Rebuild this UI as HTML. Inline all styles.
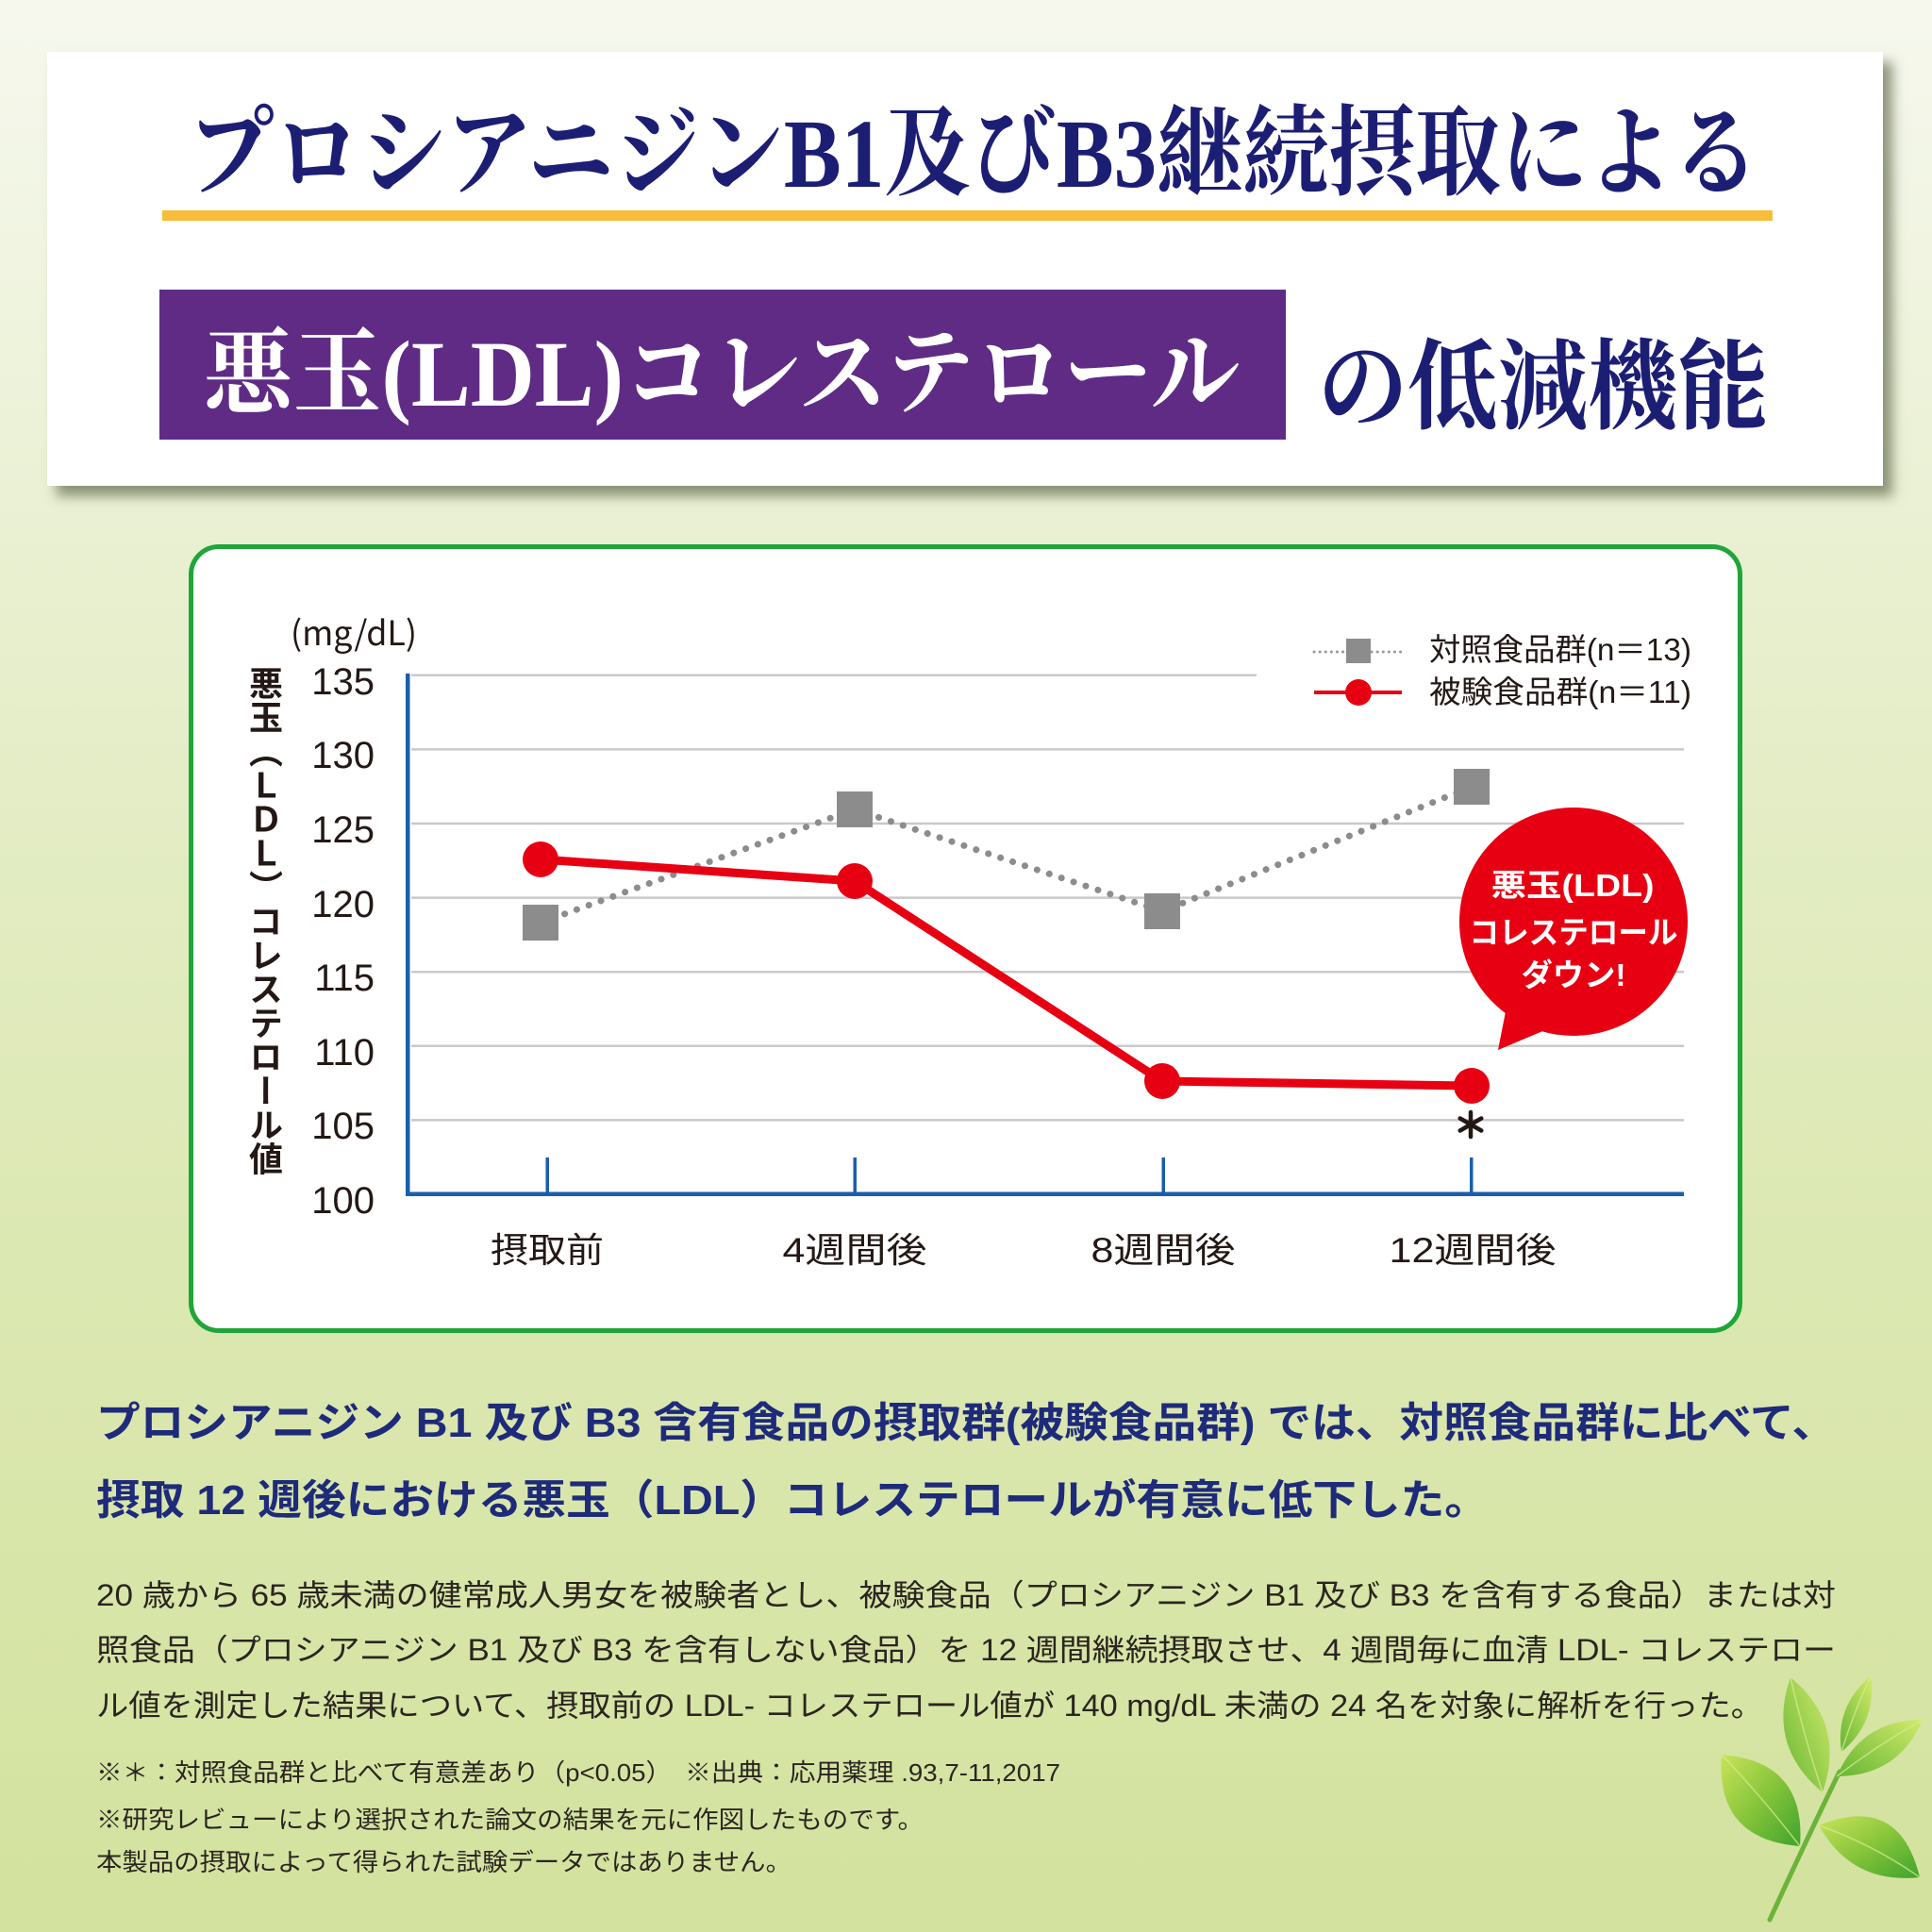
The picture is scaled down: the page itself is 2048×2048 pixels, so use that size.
<!DOCTYPE html>
<html><head><meta charset="utf-8">
<style>
html,body{margin:0;padding:0;}
body{width:2048px;height:2048px;position:relative;overflow:hidden;
background:linear-gradient(180deg,#f6f8ee 0%,#eef3dc 18%,#e4edc6 40%,#dce8b2 65%,#d3e29e 100%);
font-family:"Liberation Sans","Noto Sans CJK JP",sans-serif;}
#titlebox{position:absolute;left:50px;top:55px;width:1946px;height:460px;background:#fff;box-shadow:10px 11px 12px rgba(60,70,40,0.55);}
#chartbox{position:absolute;left:200px;top:577px;width:1647px;height:836px;box-sizing:border-box;border:5px solid #1fa539;border-radius:32px;background:#fff;}
#ytitle{position:absolute;left:260px;top:706px;width:38px;writing-mode:vertical-rl;font-size:36px;line-height:38px;font-weight:700;color:#231815;font-family:"Liberation Sans","Noto Sans CJK JP",sans-serif;white-space:nowrap;}
svg{position:absolute;left:0;top:0;}
</style></head>
<body>
<div id="titlebox"></div>
<div id="chartbox"></div>
<svg width="2048" height="2048" viewBox="0 0 2048 2048">
<defs>
<linearGradient id="lg" x1="0" y1="0" x2="1" y2="1">
<stop offset="0" stop-color="#c9e35a"/><stop offset="0.5" stop-color="#86c53a"/><stop offset="1" stop-color="#3fa32e"/>
</linearGradient>
<linearGradient id="lg2" x1="1" y1="0" x2="0" y2="1">
<stop offset="0" stop-color="#d2ea6a"/><stop offset="1" stop-color="#66b634"/>
</linearGradient>
</defs>

<!-- Title -->
<text x="199" y="198" font-family="'Liberation Serif','Noto Serif CJK SC',serif" font-weight="700" font-size="104" fill="#1c1e74" textLength="1666" lengthAdjust="spacingAndGlyphs">プロシアニジンB1及びB3継続摂取による</text>
<rect x="172" y="223" width="1707" height="11" fill="#f9bd3c"/>
<rect x="169" y="307" width="1194" height="159" fill="#5f2b85"/>
<text x="216" y="430" font-family="'Liberation Serif','Noto Serif CJK SC',serif" font-weight="700" font-size="100" fill="#ffffff" textLength="1098" lengthAdjust="spacingAndGlyphs">悪玉(LDL)コレステロール</text>
<text x="1397" y="446" font-family="'Liberation Serif','Noto Serif CJK SC',serif" font-weight="700" font-size="104" fill="#1c1e74" textLength="477" lengthAdjust="spacingAndGlyphs">の低減機能</text>

<!-- Grid -->
<g stroke="#c9c9c9" stroke-width="2.5">
<line x1="436" y1="715.8" x2="1332" y2="715.8"/>
<line x1="436" y1="794.4" x2="1785" y2="794.4"/>
<line x1="436" y1="873" x2="1785" y2="873"/>
<line x1="436" y1="951.6" x2="1785" y2="951.6"/>
<line x1="436" y1="1030.2" x2="1785" y2="1030.2"/>
<line x1="436" y1="1108.8" x2="1785" y2="1108.8"/>
<line x1="436" y1="1187.4" x2="1785" y2="1187.4"/>
</g>
<!-- Axes -->
<rect x="430" y="714" width="4.5" height="554" fill="#1a5fab"/>
<rect x="430" y="1263.5" width="1355" height="4.5" fill="#1a5fab"/>
<g fill="#1a5fab">
<rect x="578.5" y="1227" width="3.5" height="38"/>
<rect x="904.5" y="1227" width="3.5" height="38"/>
<rect x="1231.5" y="1227" width="3.5" height="38"/>
<rect x="1558" y="1227" width="3.5" height="38"/>
</g>

<!-- Y tick labels -->
<g font-family="'Liberation Sans',sans-serif" font-size="40" fill="#231815" text-anchor="end">
<text x="397" y="736">135</text>
<text x="397" y="814">130</text>
<text x="397" y="893">125</text>
<text x="397" y="972">120</text>
<text x="397" y="1050">115</text>
<text x="397" y="1129">110</text>
<text x="397" y="1207">105</text>
<text x="397" y="1286">100</text>
</g>
<text x="308" y="684" font-family="'Noto Sans CJK JP','Liberation Sans',sans-serif" font-size="36" fill="#231815" textLength="134" lengthAdjust="spacingAndGlyphs">(mg/dL)</text>

<!-- X labels -->
<g font-family="'Liberation Sans','Noto Sans CJK JP',sans-serif" font-size="37" fill="#231815" text-anchor="middle">
<text x="580" y="1338" textLength="120" lengthAdjust="spacingAndGlyphs">摂取前</text>
<text x="906" y="1338" textLength="153" lengthAdjust="spacingAndGlyphs">4週間後</text>
<text x="1233" y="1338" textLength="153" lengthAdjust="spacingAndGlyphs">8週間後</text>
<text x="1561" y="1338" textLength="177" lengthAdjust="spacingAndGlyphs">12週間後</text>
</g>

<!-- Control series -->
<path d="M573,978 L906,858 L1232,966 L1560,834" fill="none" stroke="#8c8c8c" stroke-width="7" stroke-linecap="round" stroke-dasharray="0.1 13.5"/>
<g fill="#8c8c8c">
<rect x="554" y="959" width="38" height="38"/>
<rect x="887" y="839" width="38" height="38"/>
<rect x="1213" y="947" width="38" height="38"/>
<rect x="1541" y="815" width="38" height="38"/>
</g>
<!-- Test series -->
<path d="M573,911 L906,934 L1232,1146 L1560,1151" fill="none" stroke="#e60012" stroke-width="9" stroke-linejoin="round"/>
<g fill="#e60012">
<circle cx="573" cy="911" r="19"/>
<circle cx="906" cy="934" r="19"/>
<circle cx="1232" cy="1146" r="19"/>
<circle cx="1560" cy="1151" r="19"/>
</g>
<!-- asterisk -->
<g stroke="#231815" stroke-width="4.5" stroke-linecap="round">
<line x1="1559" y1="1179" x2="1559" y2="1205"/>
<line x1="1547.7" y1="1185.5" x2="1570.3" y2="1198.5"/>
<line x1="1547.7" y1="1198.5" x2="1570.3" y2="1185.5"/>
</g>

<!-- Legend -->
<line x1="1393" y1="691" x2="1485" y2="691" stroke="#9a9a9a" stroke-width="3" stroke-linecap="round" stroke-dasharray="0.1 6"/>
<rect x="1427" y="677" width="26" height="26" fill="#8c8c8c"/>
<line x1="1393" y1="734" x2="1486" y2="734" stroke="#e60012" stroke-width="4"/>
<circle cx="1440" cy="734" r="14" fill="#e60012"/>
<g font-family="'Liberation Sans','Noto Sans CJK JP',sans-serif" font-size="33" fill="#231815">
<text x="1515" y="700" textLength="278" lengthAdjust="spacingAndGlyphs">対照食品群(n＝13)</text>
<text x="1515" y="745" textLength="278" lengthAdjust="spacingAndGlyphs">被験食品群(n＝11)</text>
</g>

<!-- Bubble -->
<circle cx="1668" cy="977" r="121" fill="#e60012"/>
<polygon points="1598,1062 1588,1113 1652,1086" fill="#e60012"/>
<g font-family="'Liberation Sans','Noto Sans CJK JP',sans-serif" font-size="33" font-weight="700" fill="#ffffff" text-anchor="middle">
<text x="1667" y="950" textLength="173" lengthAdjust="spacingAndGlyphs">悪玉(LDL)</text>
<text x="1668" y="1000" textLength="221" lengthAdjust="spacingAndGlyphs">コレステロール</text>
<text x="1668" y="1045" textLength="111" lengthAdjust="spacingAndGlyphs">ダウン!</text>
</g>

<!-- Bottom summary -->
<g font-family="'Liberation Sans','Noto Sans CJK JP',sans-serif" font-size="44" font-weight="700" fill="#1e2a7a">
<text x="102" y="1523" textLength="1844" lengthAdjust="spacingAndGlyphs">プロシアニジン B1 及び B3 含有食品の摂取群(被験食品群) では、対照食品群に比べて、</text>
<text x="102" y="1605" textLength="1476" lengthAdjust="spacingAndGlyphs">摂取 12 週後における悪玉（LDL）コレステロールが有意に低下した。</text>
</g>
<g font-family="'Liberation Sans','Noto Sans CJK JP',sans-serif" font-size="32" fill="#2a2520">
<text x="102" y="1702" textLength="1844" lengthAdjust="spacingAndGlyphs">20 歳から 65 歳未満の健常成人男女を被験者とし、被験食品（プロシアニジン B1 及び B3 を含有する食品）または対</text>
<text x="102" y="1760" textLength="1844" lengthAdjust="spacingAndGlyphs">照食品（プロシアニジン B1 及び B3 を含有しない食品）を 12 週間継続摂取させ、4 週間毎に血清 LDL- コレステロー</text>
<text x="102" y="1819" textLength="1767" lengthAdjust="spacingAndGlyphs">ル値を測定した結果について、摂取前の LDL- コレステロール値が 140 mg/dL 未満の 24 名を対象に解析を行った。</text>
</g>
<g font-family="'Liberation Sans','Noto Sans CJK JP',sans-serif" font-size="26" fill="#2a2520">
<text x="102" y="1888" textLength="1022" lengthAdjust="spacingAndGlyphs">※＊：対照食品群と比べて有意差あり（p&lt;0.05）　※出典：応用薬理 .93,7-11,2017</text>
<text x="102" y="1938" textLength="877" lengthAdjust="spacingAndGlyphs">※研究レビューにより選択された論文の結果を元に作図したものです。</text>
<text x="102" y="1983" textLength="737" lengthAdjust="spacingAndGlyphs">本製品の摂取によって得られた試験データではありません。</text>
</g>

<!-- Tea leaves -->
<path d="M1950,1878 Q1915,1950 1876,2035" fill="none" stroke="#6cb33a" stroke-width="5" stroke-linecap="round"/>
<path d="M1932,1900 Q1957.4,1827.2 1898,1778 Q1872.6,1850.8 1932,1900 Z" fill="url(#lg2)"/>
<path d="M1952,1857 Q1989.9,1825.7 1983,1777 Q1945.1,1808.3 1952,1857 Z" fill="url(#lg2)"/>
<path d="M1947,1883 Q2012.3,1883.1 2038,1823 Q1972.7,1822.9 1947,1883 Z" fill="url(#lg2)"/>
<path d="M1908,1957 Q1915.1,1866.9 1825,1860 Q1817.9,1950.1 1908,1957 Z" fill="url(#lg)"/>
<path d="M1928,1935 Q1963.2,1998 2035,1990 Q2013.5,1900.3 1928,1935 Z" fill="url(#lg)"/>
<g stroke="#d8ee90" stroke-width="1.5" fill="none" opacity="0.7">
<path d="M1932,1900 Q1912,1840 1898,1778"/>
<path d="M1952,1857 Q1965,1815 1983,1777"/>
<path d="M1947,1883 Q1990,1850 2038,1823"/>
<path d="M1908,1957 Q1868,1905 1825,1860"/>
<path d="M1928,1935 Q1985,1955 2035,1990"/>
</g>
</svg>
<div id="ytitle">悪玉（ＬＤＬ）コレステロール値</div>
</body></html>
